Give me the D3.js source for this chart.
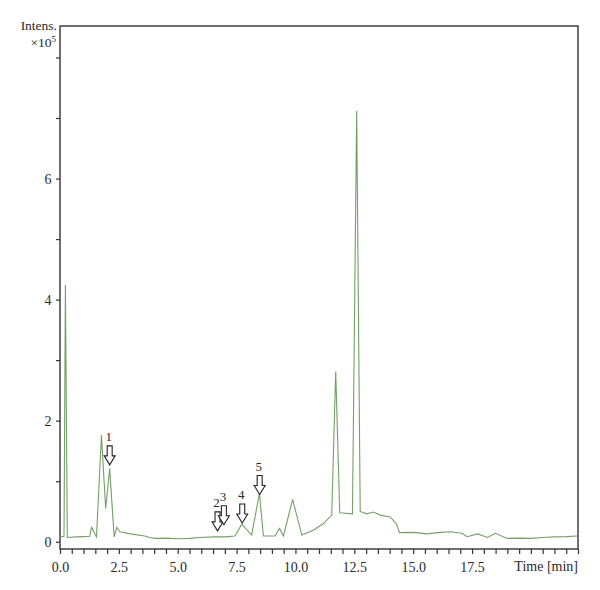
<!DOCTYPE html>
<html>
<head>
<meta charset="utf-8">
<script src="https://cdn.jsdelivr.net/npm/d3@7"></script>
<style>
  html, body { margin: 0; padding: 0; background: #fff; }
  svg text { font-family: "Liberation Serif", "DejaVu Serif", serif; fill: #2a2a2a; }
</style>
</head>
<body>
<div id="chart"></div>
<script>
// ── DATA ─────────────────────────────────────
// retention time (min) and intensity (x10^5)
const time = [0, 0.17, 0.23, 0.31, 0.7, 1.0, 1.26, 1.34, 1.55, 1.76, 1.94, 2.11, 2.30, 2.41, 2.54,
  3.0, 3.6, 3.8, 4.03, 4.5, 5.0, 5.5, 5.94, 6.5, 7.0, 7.43, 7.72, 8.14, 8.47, 8.64, 9.13, 9.32,
  9.49, 9.88, 10.27, 10.76, 11.19, 11.54, 11.71, 11.88, 12.42, 12.6, 12.75, 13.03, 13.31, 13.6,
  14.02, 14.28, 14.42, 15.02, 15.58, 16.15, 16.58, 17.07, 17.29, 17.74, 18.16, 18.49, 18.99,
  19.5, 19.98, 20.5, 20.97, 21.5, 21.97];
const intensity = [0.08, 0.09, 4.24, 0.07, 0.08, 0.085, 0.09, 0.24, 0.08, 1.76, 0.55, 1.21, 0.08,
  0.24, 0.165, 0.13, 0.095, 0.07, 0.055, 0.06, 0.05, 0.055, 0.07, 0.08, 0.08, 0.095, 0.29, 0.11,
  0.80, 0.095, 0.095, 0.22, 0.095, 0.70, 0.11, 0.19, 0.30, 0.44, 2.81, 0.48, 0.46, 7.12, 0.50,
  0.46, 0.49, 0.44, 0.41, 0.30, 0.15, 0.155, 0.13, 0.155, 0.165, 0.14, 0.083, 0.13, 0.07, 0.14,
  0.055, 0.06, 0.055, 0.07, 0.08, 0.085, 0.095];

// peak markers
const markLabels = ['1', '2', '3', '4', '5'];
const markTimes = [2.11, 6.69, 6.96, 7.74, 8.48];
const markTips = [1.27, 0.18, 0.28, 0.31, 0.78];

const xTickLabels = ['0.0', '2.5', '5.0', '7.5', '10.0', '12.5', '15.0', '17.5'];
const yTickLabels = ['0', '2', '4', '6'];

// ── LAYOUT ───────────────────────────────────
const W = 600, H = 590;
const M = { t: 26, r: 22, b: 41, l: 60 };
const w = W - M.l - M.r;
const h = H - M.t - M.b;

const svg = d3.select('#chart').append('svg')
  .attr('width', W).attr('height', H);

const g = svg.append('g').attr('transform', `translate(${M.l},${M.t})`);

const x = d3.scaleLinear().domain([0, 22]).range([0, w]);
const y = d3.scaleLinear().domain([-0.12, 8.52]).range([h, 0]);

// ── AXES ─────────────────────────────────────
const xTicks = d3.range(0, 22.01, 0.5);
const xAxis = g.append('g')
  .attr('transform', `translate(0,${h})`)
  .call(d3.axisBottom(x).tickValues(xTicks).tickSize(5).tickSizeOuter(0)
    .tickFormat(d => {
      const s = d3.format('.1f')(d);
      return xTickLabels.includes(s) ? s : '';
    }));

const yAxis = g.append('g')
  .call(d3.axisLeft(y).tickValues(d3.range(0, 9)).tickSize(4).tickSizeOuter(0)
    .tickFormat(d => yTickLabels.includes(String(d)) ? String(d) : ''));

[xAxis, yAxis].forEach(a => {
  a.select('.domain').remove();
  a.selectAll('line').attr('stroke', '#333').attr('stroke-width', 1.2);
  a.selectAll('text').attr('font-size', 14).attr('fill', '#2a2a2a')
    .style('font-family', '"Liberation Serif", serif');
});
xAxis.selectAll('text').attr('dy', '1.05em');
yAxis.selectAll('text').attr('dx', '-0.1em');

// frame
g.append('rect')
  .attr('x', 0).attr('y', 0).attr('width', w).attr('height', h)
  .attr('fill', 'none').attr('stroke', '#333').attr('stroke-width', 1.4);

// ── TRACE ────────────────────────────────────
const pts = time.map((t, i) => [t, intensity[i]]);
g.append('path')
  .datum(pts)
  .attr('fill', 'none')
  .attr('stroke', '#74a066')
  .attr('stroke-width', 1.1)
  .attr('stroke-linejoin', 'miter')
  .attr('d', d3.line().x(d => x(d[0])).y(d => y(d[1])));

// ── MARKERS ──────────────────────────────────
const arrowPath = 'M-2.5,-19 L2.5,-19 L2.5,-9 L5.5,-9 L0,0 L-5.5,-9 L-2.5,-9 Z';
markLabels.forEach((lab, i) => {
  const ax = x(markTimes[i]);
  const ay = y(markTips[i]);
  g.append('path')
    .attr('d', arrowPath)
    .attr('transform', `translate(${ax},${ay})`)
    .attr('fill', '#fff')
    .attr('stroke', '#222')
    .attr('stroke-width', 1.1);
  g.append('text')
    .attr('x', ax - 1)
    .attr('y', ay - 24)
    .attr('text-anchor', 'middle')
    .attr('font-size', 13)
    .text(lab);
});

// ── LABELS ───────────────────────────────────
svg.append('text')
  .attr('x', 57).attr('y', 30)
  .attr('text-anchor', 'end')
  .attr('font-size', 13.5)
  .text('Intens.');

const mult = svg.append('text')
  .attr('x', 56).attr('y', 47)
  .attr('text-anchor', 'end')
  .attr('font-size', 13.5);
mult.append('tspan').text('×10');
mult.append('tspan').attr('dy', -5).attr('font-size', 9).text('5');

svg.append('text')
  .attr('x', 578).attr('y', 571)
  .attr('text-anchor', 'end')
  .attr('font-size', 14)
  .text('Time [min]');
</script>
</body>
</html>
